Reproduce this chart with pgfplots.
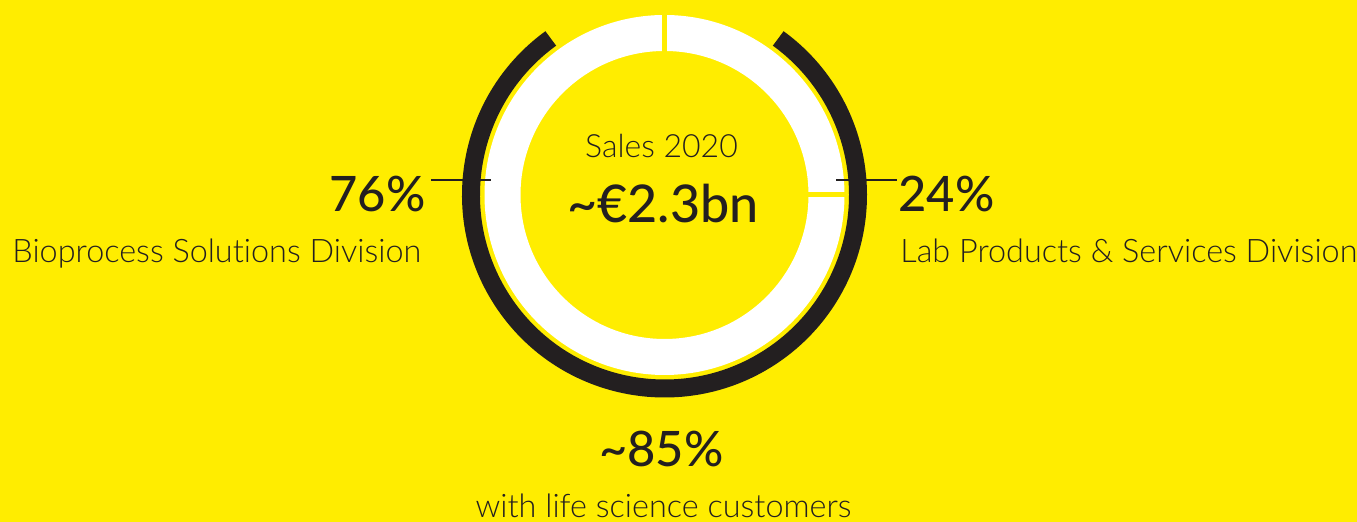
\documentclass[border=0pt]{standalone}
\usepackage{fontspec}
\setmainfont{Lato}
\newfontfamily\lightfont{Lato Light}[Ligatures={NoCommon}]
\newfontfamily\medfont{Lato Medium}[Ligatures={NoCommon}]
\usepackage{pgfplots}
\pgfplotsset{compat=1.18}

\definecolor{sy}{HTML}{FFED00}
\definecolor{dk}{HTML}{231F20}

% ring geometry in picture units (1 unit = 0.5pt), centre of the donut
\def\cx{664.5}
\def\cy{327}

\begin{document}
\begin{tikzpicture}
\useasboundingbox (0,0) rectangle (678.5pt,261pt);
\begin{axis}[
    at={(0,0)}, anchor=south west,
    width=678.5pt, height=261pt, scale only axis,
    xmin=0, xmax=1357, ymin=0, ymax=522,
    hide axis, clip=false,
]
\fill[sy] (axis cs:0,0) rectangle (axis cs:1357,522);

% white ring: Bioprocess 76% / Lab Products 24%
\draw[white, line width=18pt] (axis cs:\cx,\cy) circle[radius=81pt];
\draw[sy, line width=2.5pt] (axis cs:\cx,465) -- (axis cs:\cx,515);
\draw[sy, line width=2.5pt] (axis cs:800,327.5) -- (axis cs:852,327.5);

% black arc: ~85% with life science customers
\draw[dk, line width=9pt] (axis cs:\cx,\cy) ++(126:96.75pt)
    arc[start angle=126, end angle=414, radius=96.75pt];

% leader lines
\draw[dk, line width=1pt] (axis cs:431,341.5) -- (axis cs:491,341.5);
\draw[dk, line width=1pt] (axis cs:836,341.5) -- (axis cs:897,341.5);

% centre text
\node[dk, anchor=base, font=\lightfont\fontsize{16}{18}\selectfont, inner sep=0pt]
    at (axis cs:661.5,364) {Sales 2020};
\node[dk, anchor=base, font=\medfont\fontsize{26}{30}\selectfont, inner sep=0pt]
    at (axis cs:663,299) {\textasciitilde€2.3bn};

% left label
\node[dk, anchor=base east, font=\medfont\fontsize{24.4}{28}\selectfont, inner sep=0pt]
    at (axis cs:426,310) {76\%};
\node[dk, anchor=base west, font=\lightfont\fontsize{16.2}{19}\selectfont, inner sep=0pt]
    at (axis cs:12,259) {Bioprocess Solutions Division};

% right label
\node[dk, anchor=base west, font=\medfont\fontsize{24.4}{28}\selectfont, inner sep=0pt]
    at (axis cs:898,310) {24\%};
\node[dk, anchor=base west, font=\lightfont\fontsize{16.2}{19}\selectfont, inner sep=0pt]
    at (axis cs:900,259) {Lab Products \& Services Division};

% bottom label
\node[dk, anchor=base, font=\medfont\fontsize{24.4}{28}\selectfont, inner sep=0pt]
    at (axis cs:661.5,55) {\textasciitilde85\%};
\node[dk, anchor=base, font=\lightfont\fontsize{16.2}{19}\selectfont, inner sep=0pt]
    at (axis cs:663.5,4) {with life science customers};
\end{axis}
\end{tikzpicture}
\end{document}
